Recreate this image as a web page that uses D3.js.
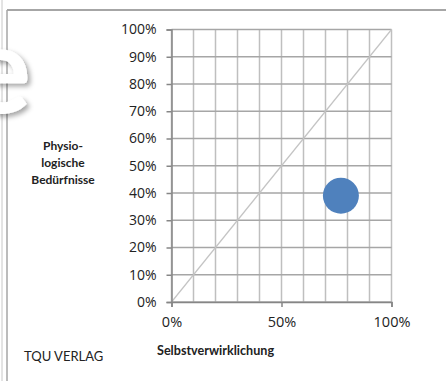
<!DOCTYPE html>
<html>
<head>
<meta charset="utf-8">
<script src="https://cdn.jsdelivr.net/npm/d3@7"></script>
<style>
  html, body { margin: 0; padding: 0; background: #fff; }
  svg { display: block; }
</style>
</head>
<body>
<svg id="chart" width="446" height="381"></svg>
<script>
// Portfolio position: Selbstverwirklichung vs. physiologische Bedürfnisse
const xTicks = [0, 0.5, 1];
const yTicks = [0, 0.1, 0.2, 0.3, 0.4, 0.5, 0.6, 0.7, 0.8, 0.9, 1];
const gridX = [0, 0.1, 0.2, 0.3, 0.4, 0.5, 0.6, 0.7, 0.8, 0.9, 1];
const pointsX = [0.77];
const pointsY = [0.39];
const diagonal = [[0, 0], [1, 1]];
const yTitleLines = ["Physio-", "logische", "Bedürfnisse"];
const xTitle = "Selbstverwirklichung";
const publisher = "TQU VERLAG";

const svg = d3.select("#chart");
const font = "Lato, 'Open Sans', sans-serif";
const tickFont = "'Open Sans', Lato, sans-serif";

// shadow for the large decorative letter
const defs = svg.append("defs");
const f = defs.append("filter").attr("id", "shadow").attr("x", "-50%").attr("y", "-50%").attr("width", "200%").attr("height", "200%");
f.append("feDropShadow").attr("dx", 3).attr("dy", 3).attr("stdDeviation", 2.5).attr("flood-color", "#000").attr("flood-opacity", 0.35);

// frame
svg.append("line").attr("x1", 2).attr("x2", 2).attr("y1", 0).attr("y2", 381).attr("stroke", "#c8c8c8").attr("stroke-width", 1);
svg.append("line").attr("x1", 7).attr("x2", 7).attr("y1", 10).attr("y2", 381).attr("stroke", "#a6a6a6").attr("stroke-width", 1.5);
svg.append("line").attr("x1", 7).attr("x2", 446).attr("y1", 10).attr("y2", 10).attr("stroke", "#a6a6a6").attr("stroke-width", 2);

// decorative letter (partly outside the left edge)
svg.append("text").attr("x", -34).attr("y", 113)
  .attr("font-family", font).attr("font-weight", "bold").attr("font-size", 122)
  .attr("fill", "#fff").attr("filter", "url(#shadow)").text("e");

const x = d3.scaleLinear().domain([0, 1]).range([171.5, 391.5]);
const y = d3.scaleLinear().domain([0, 1]).range([302, 29.5]);

const g = svg.append("g");

// gridlines
g.selectAll(".gx").data(gridX).join("line")
  .attr("x1", d => x(d)).attr("x2", d => x(d)).attr("y1", y(0)).attr("y2", y(1))
  .attr("stroke", "#bfbfbf").attr("stroke-width", 1.5);
g.selectAll(".gy").data(yTicks).join("line")
  .attr("x1", x(0)).attr("x2", x(1)).attr("y1", d => y(d)).attr("y2", d => y(d))
  .attr("stroke", "#a6a6a6").attr("stroke-width", 1.5);

// diagonal reference line
g.append("path").datum(diagonal)
  .attr("d", d3.line().x(d => x(d[0])).y(d => y(d[1])))
  .attr("stroke", "#c4c4c4").attr("stroke-width", 1.2).attr("fill", "none");

// axes
const fmt = d3.format(".0%");
const yAxis = d3.axisLeft(y).tickValues(yTicks).tickFormat(fmt).tickSize(5).tickPadding(10);
const yg = svg.append("g").attr("transform", `translate(${x(0)},0)`).call(yAxis);
const xAxis = d3.axisBottom(x).tickValues(xTicks).tickFormat(fmt).tickSize(5).tickPadding(10);
const xg = svg.append("g").attr("transform", `translate(0,${y(0)})`).call(xAxis);
[yg, xg].forEach(a => {
  a.select(".domain").attr("stroke", "#868686").attr("stroke-width", 1.5);
  a.selectAll(".tick line").attr("stroke", "#868686").attr("stroke-width", 1.5);
  a.selectAll(".tick text").attr("font-family", tickFont).attr("font-size", 14).attr("fill", "#222");
});
xg.selectAll(".tick text").attr("font-size", 14.5);

// data point
g.selectAll("circle").data(pointsX).join("circle")
  .attr("cx", d => x(d)).attr("cy", (d, i) => y(pointsY[i])).attr("r", 18)
  .attr("fill", "#4f81bd");

// titles
svg.append("text").attr("font-family", font).attr("font-weight", "bold").attr("font-size", 12)
  .attr("text-anchor", "middle").attr("fill", "#222")
  .selectAll("tspan").data(yTitleLines).join("tspan")
  .attr("x", 63).attr("y", (d, i) => 149.5 + i * 17).text(d => d);

svg.append("text").attr("x", 157).attr("y", 354.5)
  .attr("font-family", font).attr("font-weight", "bold").attr("font-size", 12.6)
  .attr("fill", "#222").text(xTitle);

svg.append("text").attr("x", 24).attr("y", 361)
  .attr("font-family", font).attr("font-size", 13)
  .attr("fill", "#222").text(publisher);
</script>
</body>
</html>
